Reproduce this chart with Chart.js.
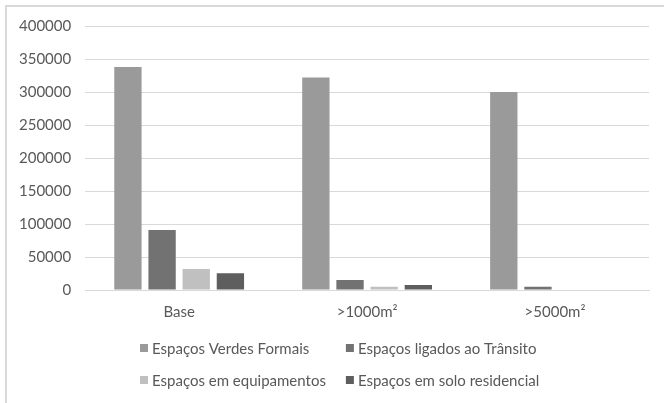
<!DOCTYPE html>
<html>
<head>
<meta charset="utf-8">
<script src="https://cdn.jsdelivr.net/npm/chart.js@4/dist/chart.umd.min.js"></script>
<style>
  html, body { margin: 0; padding: 0; background: #ffffff; }
  #wrap { position: relative; width: 664px; height: 403px; }
  #frame {
    position: absolute; left: 5px; top: 5px; right: 0; bottom: 0;
    border-left: 2px solid #d9d9d9; border-top: 2px solid #d9d9d9;
    pointer-events: none;
  }
  canvas { position: absolute; left: 0; top: 0; }
</style>
</head>
<body>
<div id="wrap">
  <canvas id="chart" width="664" height="403"></canvas>
  <div id="frame"></div>
</div>
<script>
// Area of green space (m²) by minimum parcel size
const categories = ['Base', '>1000m²', '>5000m²'];

const seriesNames = [
  'Espaços Verdes Formais',
  'Espaços ligados ao Trânsito',
  'Espaços em equipamentos',
  'Espaços em solo residencial'
];

const verdesFormais     = [338000, 322000, 300000];
const ligadosTransito   = [91000, 15000, 5000];
const emEquipamentos    = [32000, 5000, 0];
const soloResidencial   = [25500, 7500, 0];

const yTicks = { min: 0, max: 400000, step: 50000 };

const seriesColors = ['#9a9a9a', '#727272', '#c0c0c0', '#5e5e5e'];
const seriesValues = [verdesFormais, ligadosTransito, emEquipamentos, soloResidencial];

const FONT = 'Lato, "Open Sans", sans-serif';
const TEXT = '#595959';
const FONT_SIZE = 15;

// Two-column legend laid out under the plot
const gridLegend = {
  id: 'gridLegend',
  afterDraw(chart) {
    const ctx = chart.ctx;
    const left = 140, colGap = 20, box = 8, textGap = 4;
    const rows = [348, 380];
    ctx.save();
    ctx.font = FONT_SIZE + 'px ' + FONT;
    ctx.textBaseline = 'middle';
    ctx.textAlign = 'left';
    const ds = chart.data.datasets;
    let col1 = 0;
    ds.forEach((d, i) => { if (i % 2 === 0) col1 = Math.max(col1, ctx.measureText(d.label).width); });
    const col2x = left + box + textGap + col1 + colGap;
    ds.forEach((d, i) => {
      const x = i % 2 === 0 ? left : col2x;
      const y = rows[Math.floor(i / 2)];
      ctx.fillStyle = d.backgroundColor;
      ctx.fillRect(x, y - box / 2, box, box);
      ctx.fillStyle = TEXT;
      ctx.fillText(d.label, x + box + textGap, y + 1);
    });
    ctx.restore();
  }
};

new Chart(document.getElementById('chart'), {
  type: 'bar',
  data: {
    labels: categories,
    datasets: seriesNames.map((name, i) => ({
      label: name,
      data: seriesValues[i],
      backgroundColor: seriesColors[i],
      borderWidth: 0,
      categoryPercentage: 0.727,
      barPercentage: 0.8
    }))
  },
  options: {
    responsive: false,
    animation: false,
    layout: { padding: { left: 5, right: 15, top: 26, bottom: 69 } },
    plugins: {
      legend: { display: false },
      tooltip: { enabled: false }
    },
    scales: {
      x: {
        grid: { display: false, drawTicks: false },
        border: { color: '#d9d9d9', width: 1 },
        ticks: { color: TEXT, font: { family: FONT, size: FONT_SIZE }, padding: 13 }
      },
      y: {
        min: yTicks.min,
        max: yTicks.max,
        grid: { color: '#d9d9d9', lineWidth: 1, drawTicks: false },
        border: { display: false },
        ticks: {
          stepSize: yTicks.step,
          color: TEXT,
          font: { family: FONT, size: FONT_SIZE },
          padding: 14,
          callback: (v) => String(v)
        }
      }
    }
  },
  plugins: [gridLegend]
});
</script>
</body>
</html>
